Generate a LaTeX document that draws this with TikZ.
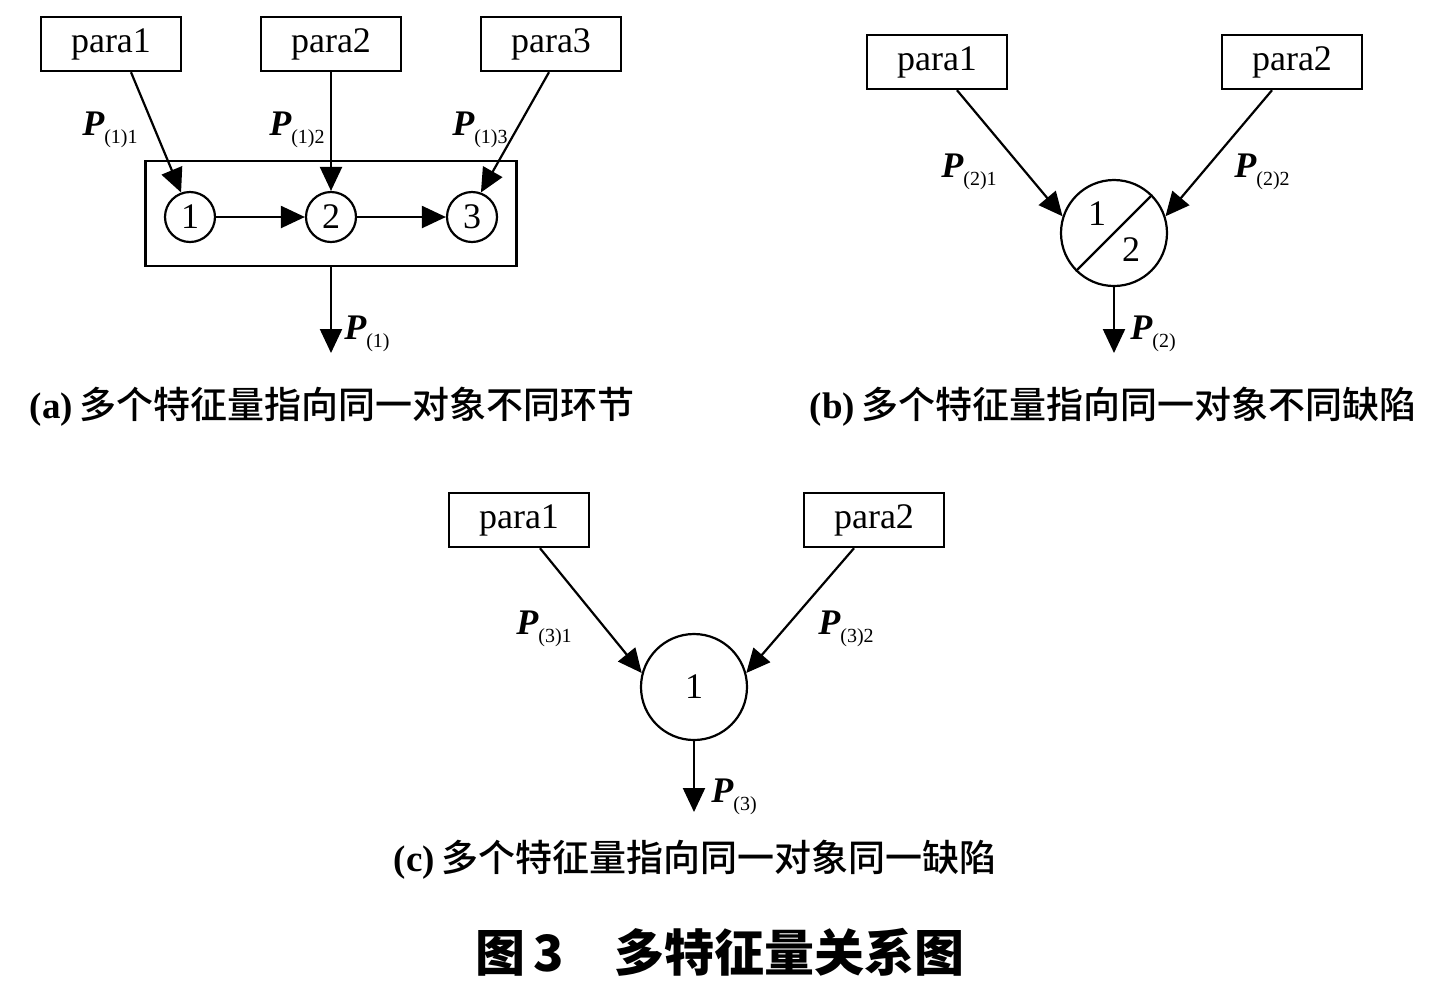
\documentclass[tikz,border=0pt]{standalone}
\usepackage{fontspec}
\setmainfont{Liberation Serif}
\newfontfamily\cjk{Noto Sans CJK SC}
\newfontfamily\cjkmed{Noto Sans CJK SC Medium}
\usetikzlibrary{arrows.meta}
\newcommand{\plab}[1]{{\bfseries\itshape P}{\fontsize{10}{10}\selectfont\raisebox{-4pt}{#1}}}

\begin{document}
\begin{tikzpicture}[x=0.5pt,y=-0.5pt,
  parabox/.style={draw,line width=1.2pt,minimum width=70pt,minimum height=27pt,inner sep=0pt,font=\fontsize{18}{18}\selectfont},
  smallnum/.style={circle,draw,line width=1.1pt,minimum size=25pt,inner sep=0pt,font=\fontsize{18}{18}\selectfont},
  bignum/.style={circle,draw,line width=1.1pt,minimum size=53pt,inner sep=0pt},
  flow/.style={-{Triangle[length=12pt,width=11pt]},line width=1.1pt},
  plabel/.style={font=\fontsize{18}{18}\selectfont,inner sep=0pt},
  caption/.style={font=\fontsize{18.5}{18.5}\selectfont,inner sep=0pt}]

\useasboundingbox (0,0) rectangle (1435,993);

% (a)
\foreach \i/\x/\c in {1/111/190, 2/331/331, 3/551/472} {
	\node[parabox] (pa\i) at (\x,44) {para\i};
	\node[smallnum] (ca\i) at (\c,217) {\i};
}
\node[draw,line width=1.2pt,minimum width=185.5pt,minimum height=52.5pt] (framea) at (331,213.5) {};

\draw[flow] ([xshift=10pt]pa1.south) -- (ca1.110);
\draw[flow] (pa2.south) -- (ca2.north);
\draw[flow] ([xshift=-1pt]pa3.south) -- (ca3.70);
\draw[flow] (ca1) -- (ca2);
\draw[flow] (ca2) -- (ca3);
\coordinate (outa) at (331,353);
\draw[flow] (framea.south) -- (outa);

\node[plabel] (la1) at (110,130) {\plab{(1)1}};
\node[plabel] (la2) at (297,130) {\plab{(1)2}};
\node[plabel] (la3) at (480,130) {\plab{(1)3}};
\node[plabel] (loa) at (367,334) {\plab{(1)}};
\node[caption] (capa) at (332,407) {\textbf{(a)}\,{\cjkmed 多个特征量指向同一对象不同环节}};

% (b)
\node[parabox] (pb1) at (937,62) {para1};
\node[parabox] (pb2) at (1292,62) {para2};
\node[bignum] (cb) at (1114,233) {};
\draw[line width=1.1pt] (cb.225) -- (cb.45);
\node[plabel] (nb1) at (1097,214) {1};
\node[plabel] (nb2) at (1131,250) {2};
\draw[flow] ([xshift=10pt]pb1.south) -- (cb.162);
\draw[flow] ([xshift=-10pt]pb2.south) -- (cb.18);
\coordinate (outb) at (1114,353);
\draw[flow] (cb.south) -- (outb);

\node[plabel] (lb1) at (969,172) {\plab{(2)1}};
\node[plabel] (lb2) at (1262,172) {\plab{(2)2}};
\node[plabel] (lob) at (1153,334) {\plab{(2)}};
\node[caption] (capb) at (1113,407) {\textbf{(b)}\,{\cjkmed 多个特征量指向同一对象不同缺陷}};

% (c)
\node[parabox] (pc1) at (519,520) {para1};
\node[parabox] (pc2) at (874,520) {para2};
\node[bignum,font=\fontsize{18}{18}\selectfont] (cc) at (694,687) {1};
\draw[flow] ([xshift=10.5pt]pc1.south) -- (cc.165);
\draw[flow] ([xshift=-10pt]pc2.south) -- (cc.15);
\coordinate (outc) at (694,812);
\draw[flow] (cc.south) -- (outc);

\node[plabel] (lc1) at (544,629) {\plab{(3)1}};
\node[plabel] (lc2) at (846,629) {\plab{(3)2}};
\node[plabel] (loc) at (734,797) {\plab{(3)}};
\node[caption] (capc) at (695,860) {\textbf{(c)}\,{\cjkmed 多个特征量指向同一对象同一缺陷}};

\node[font=\fontsize{25}{25}\selectfont,inner sep=0pt] (title) at (720,952) {\cjk\bfseries 图\,3\quad 多特征量关系图};
\end{tikzpicture}
\end{document}
